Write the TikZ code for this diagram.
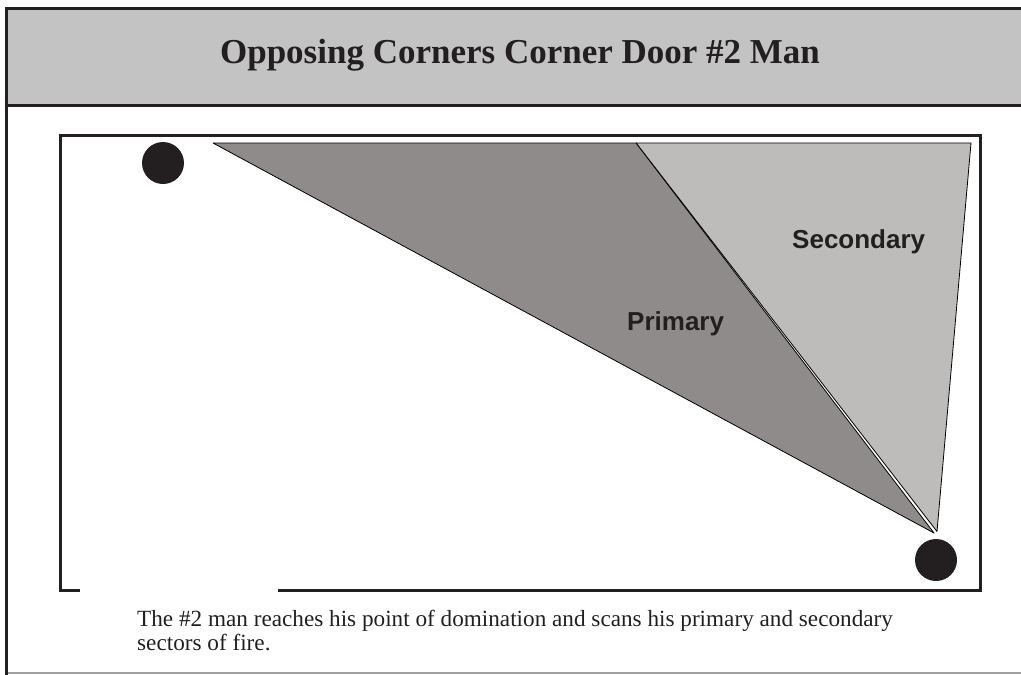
\documentclass[tikz,border=0pt]{standalone}
\usepackage{fontspec}
\setmainfont{Liberation Serif}
\newfontfamily\labelfont{Liberation Sans}
\definecolor{ink}{HTML}{231F20}
\definecolor{bandgray}{HTML}{C3C3C3}
\definecolor{primgray}{HTML}{8F8B8A}
\definecolor{secgray}{HTML}{BDBCBA}
\definecolor{edgegray}{HTML}{A0A0A0}
\tikzset{
  thickline/.style={draw=ink, line width=3.2pt},
  roomwall/.style={draw=ink, line width=3pt},
  sector/.style={draw=black, line width=0.8pt, line join=round},
  person/.style={circle, fill=ink, minimum size=42pt, inner sep=0pt},
  sectorlabel/.style={font=\labelfont\bfseries\fontsize{26}{30}\selectfont, text=ink, inner sep=0pt, anchor=base west},
}
\begin{document}
\begin{tikzpicture}[x=1pt,y=-1pt]
\useasboundingbox (0,0) rectangle (1021,675);
% title band
\fill[bandgray] (8,10) rectangle (1021,104);
\draw[thickline] (5,8.5) -- (1021,8.5);
\draw[thickline] (8,105.5) -- (1021,105.5);
\draw[thickline] (6.5,7) -- (6.5,675);
\draw[edgegray, line width=1.2pt] (8,673) -- (1021,673);
\node[font=\bfseries\fontsize{35}{40}\selectfont, text=ink, inner sep=0pt] (title) at (520,55) {Opposing Corners Corner Door \#2 Man};
% room
\coordinate (gapL) at (80,590);
\coordinate (gapR) at (278,590);
\draw[roomwall, line cap=butt] (gapL) -- (60,590) -- (60,135) -- (980,135) -- (980,590) -- (gapR);
% sectors
\coordinate (apexP) at (934,533);
\coordinate (apexS) at (937,531.5);
\filldraw[sector, fill=secgray] (636,143) -- (971,143) -- (apexS) -- cycle;
\filldraw[sector, fill=primgray] (213,143) -- (636,143) -- (apexP) -- cycle;
% people
\node[person] (man1) at (163,163) {};
\node[person] (man2) at (936,560) {};
% labels
\node[sectorlabel] (prim) at (627,330) {Primary};
\node[sectorlabel] (sec) at (792,248) {Secondary};
% caption
\node[anchor=base west, align=left, inner sep=0pt, text=ink, font=\fontsize{23.2}{23.5}\selectfont] (caption) at (137,650) {The \#2 man reaches his point of domination and scans his primary and secondary\\sectors of fire.};
\end{tikzpicture}
\end{document}
